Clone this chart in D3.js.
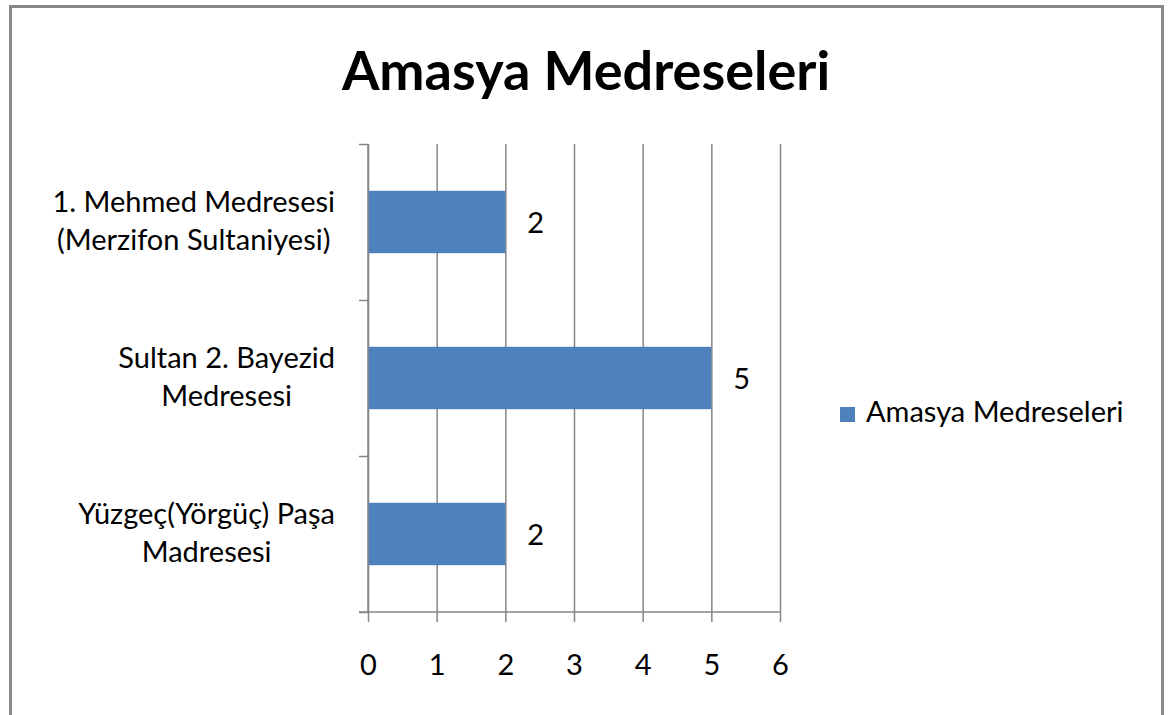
<!DOCTYPE html>
<html>
<head>
<meta charset="utf-8">
<script src="https://cdn.jsdelivr.net/npm/d3@7"></script>
<style>
  html, body { margin: 0; padding: 0; background: #fff; }
  svg { display: block; font-family: Lato, "Open Sans", sans-serif; }
</style>
</head>
<body>
<svg id="chart" width="1176" height="715"></svg>
<script>
// chart data
var title = 'Amasya Medreseleri'
var seriesName = 'Amasya Medreseleri'
var categories = [
  ['1. Mehmed Medresesi', '(Merzifon Sultaniyesi)'],
  ['Sultan 2. Bayezid', 'Medresesi'],
  ['Yüzgeç(Yörgüç) Paşa', 'Madresesi']
]
var values = [2, 5, 2]
var xTicks = [0, 1, 2, 3, 4, 5, 6]

const plotLeft = 368
const plotRight = 780
const plotTop = 144
const plotBottom = 612
const gridColor = '#868686'
const barColor = '#4F81BD'
const fontSize = 29

var svg = d3.select('#chart')

// outer frame
svg.append('rect')
   .attr('x', 10.5).attr('y', 6.5)
   .attr('width', 1152).attr('height', 740)
   .attr('fill', '#fff')
   .attr('stroke', '#888')
   .attr('stroke-width', 3)

svg.append('text')
   .attr('x', 586).attr('y', 90)
   .attr('text-anchor', 'middle')
   .attr('font-size', 54)
   .attr('font-weight', 'bold')
   .attr('fill', '#000')
   .text(title)

var x = d3.scaleLinear().domain([0, 6]).range([plotLeft, plotRight])
var y = d3.scaleBand()
          .domain(categories.map((d, i) => i))
          .range([plotTop, plotBottom])
          .padding(0)
var yLin = d3.scaleLinear().domain([0, categories.length]).range([plotBottom, plotTop])

// vertical grid
svg.append('g')
   .attr('transform', 'translate(0,' + plotBottom + ')')
   .call(d3.axisBottom(x).tickValues(xTicks).tickSize(-(plotBottom - plotTop)).tickFormat(''))
   .call(g => g.select('.domain').remove())
   .selectAll('line').attr('stroke', gridColor).attr('stroke-width', 1.5)

// bars
svg.append('g').selectAll('rect')
   .data(values)
   .enter().append('rect')
   .attr('x', x(0))
   .attr('y', (d, i) => y(i) + y.bandwidth() * 0.3)
   .attr('width', d => x(d) - x(0))
   .attr('height', y.bandwidth() * 0.4)
   .attr('fill', barColor)

// x axis
var xAxis = svg.append('g')
   .attr('transform', 'translate(0,' + plotBottom + ')')
   .call(d3.axisBottom(x).tickValues(xTicks).tickSize(10).tickPadding(32).tickFormat(d3.format('d')))
xAxis.select('.domain').attr('stroke', gridColor).attr('stroke-width', 1.5)
   .attr('d', 'M' + (plotLeft - 9) + ',0H' + plotRight)
xAxis.selectAll('line').attr('stroke', gridColor).attr('stroke-width', 1.5)
xAxis.selectAll('text')
   .attr('font-size', fontSize).attr('font-family', 'Lato, sans-serif').attr('fill', '#000')

// y axis
var yAxis = svg.append('g')
   .attr('transform', 'translate(' + plotLeft + ',0)')
   .call(d3.axisLeft(yLin).ticks(categories.length).tickSize(9).tickFormat(''))
yAxis.select('.domain').attr('stroke', gridColor).attr('stroke-width', 1.5)
   .attr('d', 'M0,' + plotTop + 'V' + plotBottom)
yAxis.selectAll('line').attr('stroke', gridColor).attr('stroke-width', 1.5)

// category labels, each block centred and right aligned to 335
var labels = svg.append('g').attr('font-size', fontSize).attr('fill', '#000')
categories.forEach((lines, i) => {
  var cy = y(i) + y.bandwidth() / 2
  var g = labels.append('g')
  var t = lines.map((line, j) => g.append('text')
     .attr('y', cy - 10 + j * 38)
     .attr('text-anchor', 'middle')
     .text(line))
  var w = d3.max(t, s => s.node().getComputedTextLength())
  t.forEach(s => s.attr('x', 335 - w / 2))
})

// value labels
svg.append('g').selectAll('text')
   .data(values)
   .enter().append('text')
   .attr('x', d => x(d) + 22)
   .attr('y', (d, i) => y(i) + y.bandwidth() / 2 + 11)
   .attr('font-size', fontSize)
   .attr('fill', '#000')
   .text(d => d)

// legend
var legend = svg.append('g')
legend.append('rect')
   .attr('x', 840).attr('y', 407)
   .attr('width', 15).attr('height', 15)
   .attr('fill', barColor)
legend.append('text')
   .attr('x', 866).attr('y', 422)
   .attr('font-size', fontSize)
   .attr('fill', '#000')
   .text(seriesName)
</script>
</body>
</html>
